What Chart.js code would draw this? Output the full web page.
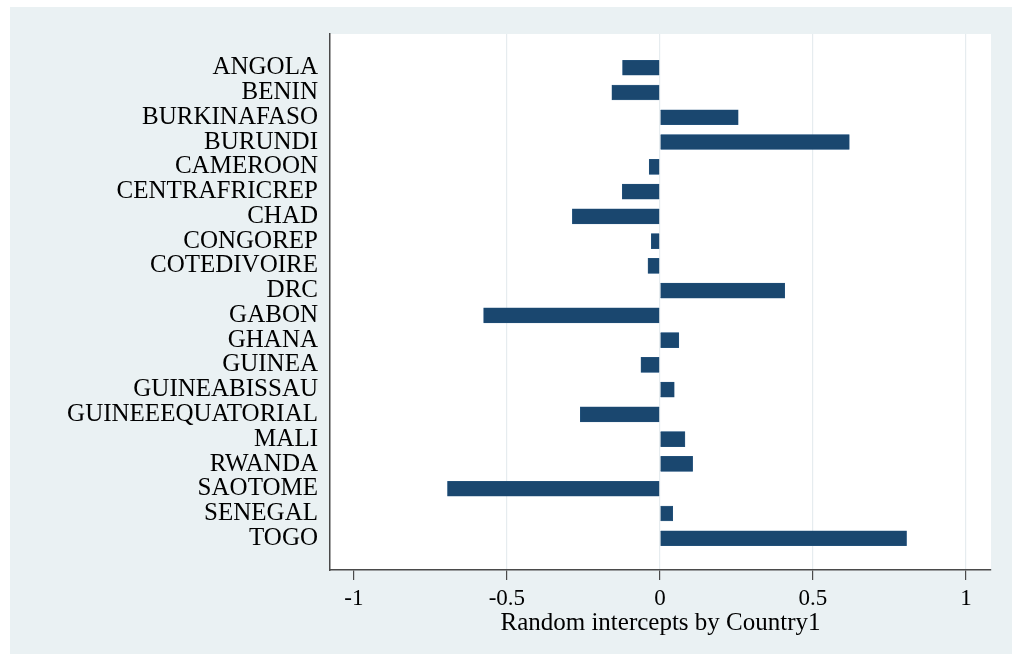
<!DOCTYPE html>
<html>
<head>
<meta charset="utf-8">
<script src="https://cdn.jsdelivr.net/npm/chart.js@4/dist/chart.umd.min.js"></script>
<style>
  html, body { margin: 0; padding: 0; background: #ffffff; }
  #panel { position: absolute; left: 10px; top: 7px; width: 1002px; height: 647px; background: #eaf1f3; }
  #plot { display: block; }
</style>
</head>
<body>
<div id="panel"><canvas id="plot" width="1002" height="647"></canvas></div>
<script>
// Random intercepts per country
const countries = [
  'ANGOLA', 'BENIN', 'BURKINAFASO', 'BURUNDI', 'CAMEROON', 'CENTRAFRICREP', 'CHAD',
  'CONGOREP', 'COTEDIVOIRE', 'DRC', 'GABON', 'GHANA', 'GUINEA', 'GUINEABISSAU',
  'GUINEEEQUATORIAL', 'MALI', 'RWANDA', 'SAOTOME', 'SENEGAL', 'TOGO'
];
const intercepts = [
  -0.122, -0.157, 0.256, 0.619, -0.035, -0.123, -0.286,
  -0.028, -0.039, 0.408, -0.576, 0.062, -0.062, 0.047,
  -0.260, 0.082, 0.107, -0.694, 0.042, 0.806
];
const xTickValues = [-1, -0.5, 0, 0.5, 1];
const xTickLabels = ['-1', '-0.5', '0', '0.5', '1'];
const xTitle = 'Random intercepts by Country1';

const serif = '"Liberation Serif", "Times New Roman", serif';

// white plotting region behind the bars
const plotBg = {
  id: 'plotBg',
  beforeDraw(chart) {
    const { ctx, chartArea: a } = chart;
    ctx.save();
    ctx.fillStyle = '#ffffff';
    ctx.fillRect(a.left, a.top, a.right - a.left, a.bottom - a.top);
    ctx.restore();
  }
};

new Chart(document.getElementById('plot'), {
  type: 'bar',
  data: {
    datasets: [{
      data: countries.map((c, i) => ({ x: intercepts[i], y: i })),
      backgroundColor: '#1a476f',
      borderColor: '#2a5a85',
      borderWidth: 0.5,
      barThickness: 15
    }]
  },
  options: {
    indexAxis: 'y',
    responsive: false,
    animation: false,
    layout: { padding: { top: 23, right: 21, left: 0, bottom: 0 } },
    plugins: { legend: { display: false }, tooltip: { enabled: false } },
    scales: {
      y: {
        type: 'linear',
        reverse: true,
        offset: false,
        min: -1.363,
        max: 20.283,
        afterFit: s => { s.width = 320; },
        afterBuildTicks: s => { s.ticks = countries.map((_, i) => ({ value: i })); },
        grid: { display: false, drawTicks: false, offset: false },
        border: { display: true, color: '#4a4a4a', width: 1.5 },
        ticks: {
          autoSkip: false,
          callback: v => countries[v],
          color: '#000',
          padding: 12,
          font: { family: serif, size: 25 }
        }
      },
      x: {
        type: 'linear',
        min: -1.078,
        max: 1.082,
        afterFit: s => { s.height = 84; },
        afterBuildTicks: s => { s.ticks = xTickValues.map(v => ({ value: v })); },
        grid: {
          color: ctx => (ctx.tick && ctx.tick.value === -1) ? 'rgba(0,0,0,0)' : '#e6ecef',
          lineWidth: 1.2,
          tickColor: '#4a4a4a',
          tickLength: 10,
          drawTicks: true
        },
        border: { display: true, color: '#4a4a4a', width: 1.5 },
        ticks: {
          autoSkip: false,
          callback: v => xTickLabels[xTickValues.indexOf(v)],
          color: '#000',
          padding: 5,
          maxRotation: 0,
          font: { family: serif, size: 23 }
        },
        title: {
          display: true,
          text: xTitle,
          color: '#000',
          padding: { top: 0, bottom: 16 },
          font: { family: serif, size: 25 }
        }
      }
    }
  },
  plugins: [plotBg]
});
</script>
</body>
</html>
